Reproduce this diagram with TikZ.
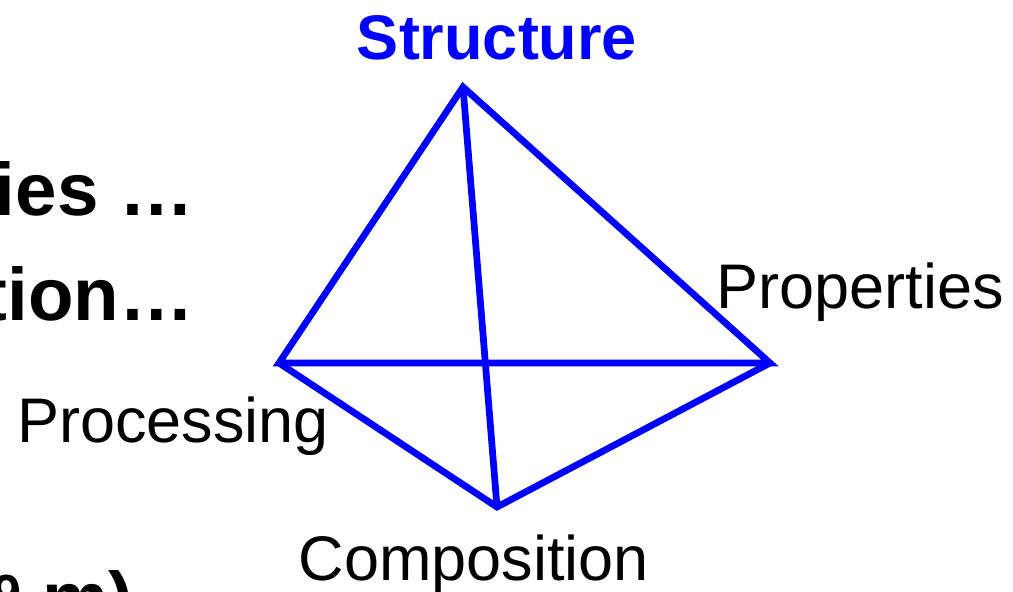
\documentclass[tikz,border=0pt]{standalone}
\usepackage{fontspec}
\setmainfont{Liberation Sans}
\usepackage{xcolor}
\usetikzlibrary{positioning}
\definecolor{edge}{HTML}{0000FF}
\tikzset{
  side/.style={draw=edge,line width=4.8pt,line join=miter},
  corner/.style={font=\fontsize{44.8}{54}\selectfont,text=black,inner sep=0pt,anchor=base},
  title/.style={corner,font=\fontsize{44.8}{54}\selectfont\bfseries,text=edge},
  cut/.style={font=\fontsize{53}{64}\selectfont\bfseries,text=black,inner sep=0pt,anchor=base east},
}
\begin{document}
\begin{tikzpicture}[x=0.025cm,y=-0.025cm]
  \useasboundingbox (0,0) rectangle (1013,592);
  \clip (0,0) rectangle (1013,592);
  % corners of the tetrahedron
  \coordinate (top) at (463,87);
  \coordinate (lft) at (279,363);
  \coordinate (rgt) at (770,363);
  \coordinate (bot) at (497,507);
  \draw[side] (lft) -- (top) -- (rgt) -- cycle;
  \draw[side] (lft) -- (bot) -- (rgt);
  \draw[side] (top) -- (bot);
  % labels
  \node[title] (str) at (497,59) {Structure};
  \node[corner] (prop) at (860,308) {Properties};
  \node[corner] (proc) at (173,442) {Processing};
  \node[corner] (comp) at (474,580) {Composition};
  % text running off the left edge
  \node[cut] (l1) at (194,215) {ies \ldots};
  \node[cut] (l2) at (194,320) {tion\ldots};
  \node[cut] (l3) at (134,624) {\textsuperscript{-9} m)};
\end{tikzpicture}
\end{document}
